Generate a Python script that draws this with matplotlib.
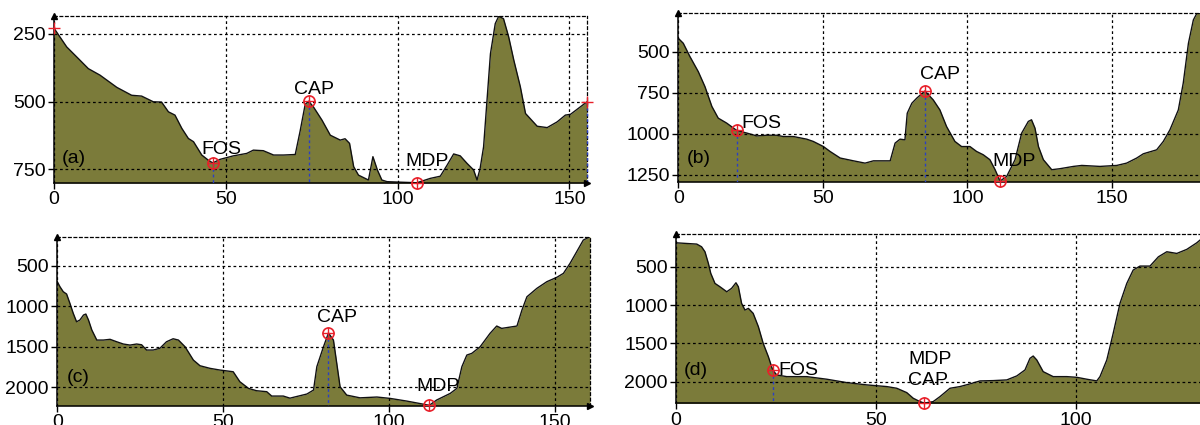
import matplotlib
matplotlib.use("Agg")
import matplotlib.pyplot as plt

plt.rcParams['font.family'] = ['Liberation Sans', 'DejaVu Sans']

# ---------------- data ----------------
xa = [0, 3.7, 7.1, 10, 13.4, 18.3, 22.6, 25.5, 28.9, 31.3, 33.3, 35.2, 37.2, 39.1, 40.6,
      43, 44.9, 46.2, 48.3, 52.2, 56.1, 58, 60.9, 63.9, 66.8, 70.2, 71.6, 73.1, 74.1, 75.5,
      78, 80.4, 83.3, 84.7, 86, 87.2, 88.6, 91.5, 92.8, 94.1, 95.4, 96.9, 101, 105.6, 109.5,
      112.4, 114.4, 116.3, 118.2, 120.2, 122.1, 123.1, 124, 125, 126, 127, 128.4, 129.4,
      130.8, 132.3, 133.8, 135.7, 137.2, 140.6, 143.5, 146.4, 148.8, 150.3, 155]
da = [230, 299, 342, 379, 403, 448, 477, 480, 501, 502, 538, 550, 599, 636, 648,
      697, 716, 726, 713, 700, 691, 679, 681, 697, 697, 695, 610, 510, 499, 520,
      569, 624, 642, 637, 654, 740, 771, 789, 703, 752, 789, 795, 797, 799, 783,
      775, 734, 693, 700, 728, 752, 789, 746, 667, 495, 324, 213, 186,
      195, 262, 348, 446, 544, 591, 596, 575, 550, 547, 502]

xb = [0, 1.7, 4, 6.9, 9.2, 11.6, 13.8, 16.7, 20.2, 23.7, 27.1, 30.6, 34, 36.3, 39.8,
      44.4, 46.7, 50.2, 52.5, 56, 60.6, 64.6, 67.5, 73.3, 75, 76.7, 78.4, 79.2, 80.8, 82.5,
      85.3, 88.2, 90.5, 92.8, 95.7, 98, 100.9, 103.2, 105.5, 107.8, 109.6, 111.3, 113.6,
      116.5, 118.8, 121.1, 122.2, 123.4, 124.6, 126.3, 129.2, 132, 136.7, 139.6, 145.9,
      151.7, 155.1, 158.6, 160.9, 165.5, 167.8, 170.1, 173, 174.7, 176.5, 178.2, 179.4, 181]
db = [419, 449, 530, 622, 713, 834, 905, 935, 980, 996, 1013, 1009, 1009, 1017, 1017,
      1033, 1047, 1078, 1108, 1148, 1165, 1179, 1165, 1165, 1057, 1033, 1037, 875, 814, 783,
      740, 794, 855, 956, 1047, 1078, 1078, 1108, 1128, 1158, 1219, 1288, 1260,
      1158, 996, 925, 915, 966, 1078, 1158, 1219, 1213, 1199, 1193, 1199,
      1193, 1179, 1148, 1122, 1098, 1047, 976, 855, 692, 449, 307, 267, 267]

xc = [0, 0.8, 1.8, 2.8, 3.8, 4.8, 5.8, 6.8, 7.9, 8.6, 9.4, 10.4, 11.9, 13.9, 15.9,
      17.9, 19.9, 21.9, 23.9, 25.4, 26.9, 28.9, 30.9, 32.9, 34.9, 36.5, 38.5, 41, 43, 46,
      49, 53, 55, 57.6, 60, 63.1, 64.6, 68.1, 70.1, 75.2, 77.2, 78.2, 80.2, 81.7, 83.2,
      84.2, 85.2, 87.2, 91.2, 96.3, 100.3, 105.3, 112.1, 114.3, 118.4, 120.4, 121.9, 123.4,
      124.9, 127.4, 130.4, 132.4, 133.9, 138.5, 140, 141.5, 144.5, 147.5, 150.5, 152.5,
      154.5, 156.5, 158.5, 160.5]
dc = [697, 759, 821, 849, 964, 1087, 1191, 1170, 1108, 1096, 1170, 1293, 1417, 1417, 1408,
      1438, 1466, 1479, 1466, 1475, 1540, 1540, 1519, 1438, 1401, 1417, 1500, 1664, 1734, 1766,
      1787, 1808, 1931, 2013, 2042, 2054, 2108, 2108, 2134, 2083, 2034, 1746, 1500, 1330, 1417,
      1704, 1993, 2096, 2130, 2120, 2137, 2170, 2222, 2157, 2075, 2013, 1746, 1602,
      1581, 1500, 1334, 1244, 1273, 1244, 1047, 883, 779, 697, 643, 594,
      470, 327, 183, 142]

xd = [0, 2.7, 5.2, 6.4, 7.25, 8.1, 8.7, 9.75, 11, 12.7, 13.9, 15, 15.6, 16.4, 17.25,
      18.1, 19.3, 20.6, 21.8, 23.1, 24.2, 25.2, 27.7, 32.7, 37.7, 42.7, 47.7, 52.7, 55.2, 57.7,
      59.3, 60.6, 62, 64.3, 66, 68.5, 71, 73.5, 76, 79.3, 82.7, 85.2, 87.25, 88.5, 89.3,
      90.2, 91.8, 94.3, 97.7, 100.2, 102.7, 105.2, 106, 107.7, 109.3, 111, 112.7, 114.3,
      116, 118.5, 120.6, 122.7, 125.2, 127.7, 130.2, 131]
dd = [187, 196, 204, 239, 304, 456, 586, 717, 761, 826, 782, 709, 761, 977, 1065,
      1043, 1108, 1282, 1499, 1674, 1850, 1912, 1934, 1934, 1968, 2012, 2042, 2064, 2086, 2143,
      2216, 2250, 2280, 2260, 2195, 2086, 2064, 2029, 1990, 1986, 1977, 1925, 1847, 1695, 1665,
      1717, 1869, 1934, 1934, 1943, 1968, 1990, 1934, 1717, 1369, 977, 717, 543,
      491, 491, 370, 304, 326, 273, 187, 152]

# feature points: (x, depth)
pts_a = {"FOS": (46.2, 726), "CAP": (74.1, 499), "MDP": (105.6, 799)}
pts_b = {"FOS": (20.2, 980), "CAP": (85.3, 740), "MDP": (111.3, 1288)}
pts_c = {"CAP": (81.7, 1330), "MDP": (112.1, 2222)}
pts_d = {"FOS": (24.2, 1850), "MDP": (62, 2280)}
ends_a = [(0, 230), (155, 502)]

xticks_a = [0, 50, 100, 150]
yticks_a = [250, 500, 750]
xticks_b = [0, 50, 100, 150]
yticks_b = [500, 750, 1000, 1250]
xticks_c = [0, 50, 100, 150]
yticks_c = [500, 1000, 1500, 2000]
xticks_d = [0, 50, 100]
yticks_d = [500, 1000, 1500, 2000]

FILL = '#7b7b3a'
RED = '#e8202a'
BLUE = '#2a3fc4'
FS = 14

fig = plt.figure(figsize=(12, 4.25), dpi=100)
fig.patch.set_facecolor('white')


def panel(rect, x, d, xlim, ylim, xticks, yticks, full_right=True):
    ax = fig.add_axes(rect)
    ax.fill_between(x, d, ylim[0], color=FILL, lw=0, zorder=1)
    ax.plot(x, d, color='#111111', lw=1.0, zorder=2)
    ax.set_xlim(*xlim)
    ax.set_ylim(*ylim)
    ax.set_xticks(xticks)
    ax.set_yticks(yticks)
    ax.tick_params(direction='out', length=4, width=1, pad=2, labelsize=FS)
    ax.grid(True, color='black', linestyle=(0, (2.2, 2.2)), lw=0.9)
    ax.set_axisbelow(False)
    for s in ['left', 'bottom']:
        ax.spines[s].set_linewidth(1.1)
        ax.spines[s].set_color('black')
    for s in ['top', 'right']:
        ax.spines[s].set_linestyle((0, (2.2, 2.2)))
        ax.spines[s].set_linewidth(0.9)
    if not full_right:
        ax.spines['right'].set_visible(False)
    ax.plot(0, 1, marker='^', ms=5, color='black', transform=ax.transAxes, clip_on=False, zorder=5)
    if full_right:
        ax.plot(1, 0, marker='>', ms=5, color='black', transform=ax.transAxes, clip_on=False, zorder=5)
    return ax


def mark(ax, px, py, bottom, vline=True):
    if vline:
        ax.vlines(px, py, bottom, colors=BLUE, linestyles=(0, (2, 2)), lw=1.0, zorder=3)
    ax.plot(px, py, 'o', ms=8, mfc='none', mec=RED, mew=1.2, zorder=6, clip_on=False)
    ax.plot(px, py, '+', ms=8, color=RED, mew=1.0, zorder=6, clip_on=False)


# ---- (a)
ax = panel([0.045, 0.5694, 0.4439, 0.393], xa, da, (0, 155), (800, 185), xticks_a, yticks_a)
mark(ax, *pts_a["FOS"], 800)
mark(ax, *pts_a["CAP"], 800)
mark(ax, *pts_a["MDP"], 800, vline=False)
ax.vlines(ends_a[1][0], ends_a[1][1], 800, colors=BLUE, linestyles=(0, (2, 2)), lw=1.0, zorder=3, clip_on=False)
for ex, ey in ends_a:
    ax.plot(ex, ey, '+', ms=9, color=RED, mew=1.0, zorder=6, clip_on=False)
ax.text(48.6, 675, "FOS", fontsize=FS, ha='center', va='center')
ax.text(75.6, 455, "CAP", fontsize=FS, ha='center', va='center')
ax.text(108.5, 719, "MDP", fontsize=FS, ha='center', va='center')
ax.text(5.8, 708, "(a)", fontsize=FS, ha='center', va='center')

# ---- (b)
ax = panel([0.5653, 0.5725, 0.4347, 0.396], xb, db, (0, 180.5), (1292, 267), xticks_b, yticks_b,
           full_right=False)
mark(ax, *pts_b["FOS"], 1292)
mark(ax, *pts_b["CAP"], 1292)
mark(ax, *pts_b["MDP"], 1292, vline=False)
ax.text(28.8, 940, "FOS", fontsize=FS, ha='center', va='center')
ax.text(90.6, 642, "CAP", fontsize=FS, ha='center', va='center')
ax.text(116.1, 1169, "MDP", fontsize=FS, ha='center', va='center')
ax.text(7.2, 1152, "(b)", fontsize=FS, ha='center', va='center')

# ---- (c)
ax = panel([0.04775, 0.0454, 0.4439, 0.3976], xc, dc, (0, 160.5), (2227, 142), xticks_c, yticks_c)
mark(ax, *pts_c["CAP"], 2227)
mark(ax, *pts_c["MDP"], 2227, vline=False)
ax.text(84.4, 1139, "CAP", fontsize=FS, ha='center', va='center')
ax.text(114.7, 1984, "MDP", fontsize=FS, ha='center', va='center')
ax.text(6.3, 1880, "(c)", fontsize=FS, ha='center', va='center')

# ---- (d)
ax = panel([0.5633, 0.0511, 0.4367, 0.398], xd, dd, (0, 131), (2282, 74), xticks_d, yticks_d,
           full_right=False)
mark(ax, *pts_d["FOS"], 2282)
mark(ax, *pts_d["MDP"], 2282, vline=False)
ax.text(30.5, 1857, "FOS", fontsize=FS, ha='center', va='center')
ax.text(63.4, 1704, "MDP", fontsize=FS, ha='center', va='center')
ax.text(63.0, 1988, "CAP", fontsize=FS, ha='center', va='center')
ax.text(5.0, 1857, "(d)", fontsize=FS, ha='center', va='center')

fig.savefig("out.png", dpi=100, facecolor='white')
